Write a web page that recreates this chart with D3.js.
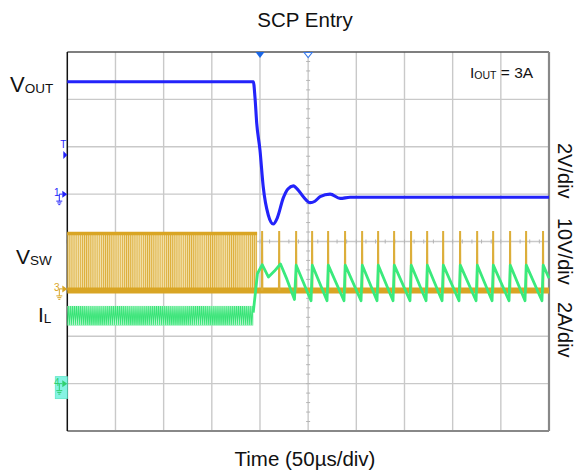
<!DOCTYPE html>
<html><head><meta charset="utf-8">
<script src="https://cdn.jsdelivr.net/npm/d3@7"></script>
<style>
html,body{margin:0;padding:0;background:#fff}
svg{display:block}
text{font-family:"Liberation Sans",Arial,Helvetica,sans-serif;fill:#111}
</style>
</head><body>
<svg id="chart" width="579" height="471"></svg>
<script>
// ---------------- DATA ----------------
const title = "SCP Entry";
const xLabel = "Time (50µs/div)";
const timeDomain = [0, 500];            // µs (10 div x 50 µs)
const divDomain = [-4, 4];              // vertical divisions
const rightLabels = ["2V/div", "10V/div", "2A/div"];
const condition = ["I", "OUT", " = 3A"];

// channel scaling: units per division and ground offset (div)
const voutScale = [2, 1];     // 2 V/div, ground at +1 div
const vswScale  = [10, -1];   // 10 V/div, ground at -1 div
const ilScale   = [2, -3];    // 2 A/div, ground at -3 div
const triggerTime = 200;      // µs
const triggerLevel = 1.65;    // V on VOUT

// VOUT trace [µs, V]
const voutPoints = [
  [0, 4.745], [193.1, 4.745], [194.8, 4.1], [196.6, 3.0], [200.0, 1.86],
  [203.4, 0.3], [208.6, -0.88], [213.8, -1.26], [218, -1.0], [224.2, -0.16],
  [229, 0.22], [234.6, 0.35], [240, 0.15], [245, -0.11], [252.0, -0.36],
  [257, -0.3], [262.4, -0.11], [272.8, 0.0], [283.2, -0.18], [293.5, -0.135],
  [500, -0.135]
];

// VSW: dense switching burst before the short, then isolated pulses
const vswBurst = [0, 197];          // µs
const vswBurstLevels = [-0.35, 11.9]; // V low / high
const vswBaseline = -0.35;          // V
const vswPulseHigh = 12.1;          // V
const vswPulseTimes = [202.1, 219.8, 237.4, 254.0, 270.6, 288.2, 305.9, 322.5,
  339.1, 356.7, 373.4, 390.0, 407.6, 425.3, 441.9, 459.5, 476.1, 493.7];

// IL: ripple band before the short, then sawtooth [µs, A]
const ilBurst = [0, 193];
const ilBurstRange = [2.45, 3.28];
const ilPoints = [
  [193.0, 3.0], [197.4, 4.65], [202.3, 5.02], [208.8, 4.5], [215, 4.75],
  [221.3, 5.05], [228, 4.4], [235.8, 3.55], [237.6, 5.0],
  [253.0, 3.5], [254.3, 5.0], [269.6, 3.5], [270.9, 5.0],
  [287.2, 3.5], [288.5, 5.0], [304.9, 3.5], [306.2, 5.0],
  [321.5, 3.5], [322.8, 5.0], [338.1, 3.5], [339.4, 5.0],
  [355.7, 3.5], [357.0, 5.0], [372.4, 3.5], [373.7, 5.0],
  [389.0, 3.5], [390.3, 5.0], [406.6, 3.5], [407.9, 5.0],
  [424.3, 3.5], [425.6, 5.0], [440.9, 3.5], [442.2, 5.0],
  [458.5, 3.5], [459.8, 5.0], [475.1, 3.5], [476.4, 5.0],
  [492.7, 3.5], [494.0, 5.0], [500, 4.45]
];

// ---------------- STYLE ----------------
const BLUE = "#2323fa", GOLD = "#d9a524", GREEN = "#3aea7c", CYAN = "#86f3e3";
const L = 67.3, R = 549, T = 52, B = 431;

const svg = d3.select("#chart");
const x = d3.scaleLinear().domain(timeDomain).range([L, R]);
const yd = d3.scaleLinear().domain(divDomain).range([B, T]);
const chY = s => v => yd(v / s[0] + s[1]);
const yV = chY(voutScale), yS = chY(vswScale), yI = chY(ilScale);

// patterns
const defs = svg.append("defs");
const pSw = defs.append("pattern").attr("id", "swp").attr("patternUnits", "userSpaceOnUse")
  .attr("x", x(0)).attr("y", 0).attr("width", 2.1).attr("height", 10);
pSw.append("rect").attr("width", 2.1).attr("height", 10).attr("fill", "#f2e0aa");
pSw.append("rect").attr("width", 0.9).attr("height", 10).attr("fill", "#dcac36");

const ilTop = yI(ilBurstRange[1]), ilBot = yI(ilBurstRange[0]);
const pIl = defs.append("pattern").attr("id", "ilp").attr("patternUnits", "userSpaceOnUse")
  .attr("x", x(0)).attr("y", ilTop).attr("width", 2.05).attr("height", ilBot - ilTop);
pIl.append("rect").attr("width", 2.05).attr("height", ilBot - ilTop).attr("fill", "#b8f6cf");
pIl.append("path").attr("d", `M0,${ilBot - ilTop} L1.02,0 L2.05,${ilBot - ilTop}`)
  .attr("fill", "none").attr("stroke", "#34e474").attr("stroke-width", 0.9);

// grid
const g = svg.append("g");
g.selectAll(".vg").data(x.ticks(10).slice(1, -1)).join("line")
  .attr("x1", d => x(d)).attr("x2", d => x(d)).attr("y1", T).attr("y2", B)
  .attr("stroke", "#c9c9c9").attr("stroke-width", 1.4);
g.selectAll(".hg").data(d3.range(divDomain[0] + 1, divDomain[1])).join("line")
  .attr("y1", d => yd(d)).attr("y2", d => yd(d)).attr("x1", L).attr("x2", R)
  .attr("stroke", "#c9c9c9").attr("stroke-width", 1.4);
// minor ticks on centre lines
const cx = x(250), cy = yd(0);
g.selectAll(".mt").data(d3.range(divDomain[0], divDomain[1] + 0.001, 0.2)).join("line")
  .attr("x1", cx - 2).attr("x2", cx + 2).attr("y1", d => yd(d)).attr("y2", d => yd(d))
  .attr("stroke", "#b5b5b5").attr("stroke-width", 1);
g.selectAll(".mtx").data(d3.range(0, 500.001, 10)).join("line")
  .attr("y1", cy - 2).attr("y2", cy + 2).attr("x1", d => x(d)).attr("x2", d => x(d))
  .attr("stroke", "#b5b5b5").attr("stroke-width", 1);

// borders
svg.append("line").attr("x1", L).attr("x2", R).attr("y1", T).attr("y2", T).attr("stroke", "#555").attr("stroke-width", 1.5);
svg.append("line").attr("x1", R).attr("x2", R).attr("y1", T).attr("y2", B).attr("stroke", "#888").attr("stroke-width", 2.2);
svg.append("line").attr("x1", L).attr("x2", R).attr("y1", B).attr("y2", B).attr("stroke", "#888").attr("stroke-width", 2.2);
svg.append("line").attr("x1", L).attr("x2", L).attr("y1", T).attr("y2", B).attr("stroke", "#111").attr("stroke-width", 1.5);

// ---- VSW ----
const tr = svg.append("g");
tr.append("rect").attr("x", x(vswBurst[0])).attr("width", x(vswBurst[1]) - x(vswBurst[0]))
  .attr("y", yS(vswBurstLevels[1])).attr("height", yS(vswBurstLevels[0]) - yS(vswBurstLevels[1]))
  .attr("fill", "url(#swp)");
tr.append("line").attr("x1", x(vswBurst[0])).attr("x2", x(vswBurst[1]))
  .attr("y1", yS(vswBurstLevels[1]) + 1).attr("y2", yS(vswBurstLevels[1]) + 1)
  .attr("stroke", GOLD).attr("stroke-width", 3.5);
tr.append("line").attr("x1", x(0)).attr("x2", x(500))
  .attr("y1", yS(vswBaseline)).attr("y2", yS(vswBaseline))
  .attr("stroke", GOLD).attr("stroke-width", 6);
tr.selectAll(".pulse").data(vswPulseTimes).join("path")
  .attr("d", t => `M${x(t - 0.5)},${yS(vswBaseline)} L${x(t - 0.25)},${yS(vswPulseHigh)} L${x(t + 0.5)},${yS(vswPulseHigh)} L${x(t + 0.75)},${yS(vswBaseline)}`)
  .attr("fill", "none").attr("stroke", "#dcae3a").attr("stroke-width", 1.3);

// ---- IL ----
tr.append("rect").attr("x", x(ilBurst[0])).attr("width", x(ilBurst[1]) - x(ilBurst[0]))
  .attr("y", ilTop).attr("height", ilBot - ilTop).attr("fill", "url(#ilp)");
tr.append("path").datum(ilPoints)
  .attr("d", d3.line().x(d => x(d[0])).y(d => yI(d[1])))
  .attr("fill", "none").attr("stroke", GREEN).attr("stroke-width", 2.8).attr("stroke-linejoin", "round");

// ---- VOUT ----
tr.append("path").datum(voutPoints)
  .attr("d", d3.line().x(d => x(d[0])).y(d => yV(d[1])).curve(d3.curveMonotoneX))
  .attr("fill", "none").attr("stroke", BLUE).attr("stroke-width", 3.1).attr("stroke-linejoin", "round");

// ---- markers at top ----
const xt = x(triggerTime);
svg.append("path").attr("d", `M${xt - 4.5},${T} L${xt + 4.5},${T} L${xt},${T + 6}Z`).attr("fill", "#1a66e6");
svg.append("path").attr("d", `M${cx - 4},${T + 0.5} L${cx + 4},${T + 0.5} L${cx},${T + 5.5}Z`)
  .attr("fill", "#fff").attr("stroke", "#3a7ae8").attr("stroke-width", 1.1);

// ---- channel markers at left ----
function groundMarker(yy, color, label, box) {
  const m = svg.append("g");
  if (box) m.append("rect").attr("x", L - 12).attr("y", yy - 7).attr("width", 12).attr("height", 22)
    .attr("fill", CYAN).attr("stroke", "#5ee8c8").attr("stroke-width", 0.8);
  m.append("path").attr("d", `M${L - 5},${yy - 3.5} L${L},${yy} L${L - 5},${yy + 3.5}Z`).attr("fill", color);
  m.append("path").attr("d", `M${L - 5},${yy} L${L - 8},${yy} L${L - 8},${yy + 7} M${L - 11},${yy + 7} L${L - 5},${yy + 7} M${L - 10},${yy + 8.8} L${L - 6},${yy + 8.8} M${L - 9},${yy + 10.5} L${L - 7},${yy + 10.5}`)
    .attr("stroke", color).attr("stroke-width", 1).attr("fill", "none");
  m.append("text").attr("x", L - 10.5).attr("y", yy + 2).attr("text-anchor", "middle")
    .attr("font-size", 10).style("fill", color).text(label);
}
groundMarker(yV(0), BLUE, "1", false);
groundMarker(yS(0), GOLD, "3", false);
groundMarker(yI(0), "#30d070", "4", true);
// trigger level marker
const yTrig = yV(triggerLevel);
svg.append("path").attr("d", `M${L - 4},${yTrig - 4} L${L},${yTrig} L${L - 4},${yTrig + 4}Z`).attr("fill", BLUE);
svg.append("text").attr("x", L - 4).attr("y", yTrig - 7).attr("text-anchor", "middle")
  .attr("font-size", 10).style("fill", BLUE).text("T");

// ---- text ----
svg.append("text").attr("x", 305).attr("y", 27).attr("text-anchor", "middle").attr("font-size", 20.5).text(title);
svg.append("text").attr("x", 305).attr("y", 466).attr("text-anchor", "middle").attr("font-size", 20.5).text(xLabel);

function subLabel(xx, yy, main, sub, fs, sfs) {
  const t = svg.append("text").attr("x", xx).attr("y", yy).attr("font-size", fs);
  t.append("tspan").text(main);
  t.append("tspan").attr("font-size", sfs).attr("dy", 1).text(sub);
  return t;
}
subLabel(10, 92, "V", "OUT", 22, 13.5);
subLabel(16, 264, "V", "SW", 21, 13.5);
subLabel(38, 322, "I", "L", 21, 13.5);
const ct = svg.append("text").attr("x", 470).attr("y", 78).attr("font-size", 15.5);
ct.append("tspan").text(condition[0]);
ct.append("tspan").attr("font-size", 10.5).attr("dy", 1).text(condition[1]);
ct.append("tspan").attr("dy", -1).text(condition[2]);

// right-side scale labels (rotated)
const rStart = [143, 218, 302];
rightLabels.forEach((s, i) => {
  svg.append("text").attr("transform", `translate(558,${rStart[i]}) rotate(90)`)
    .attr("font-size", 20).text(s);
});
</script>
</body></html>
